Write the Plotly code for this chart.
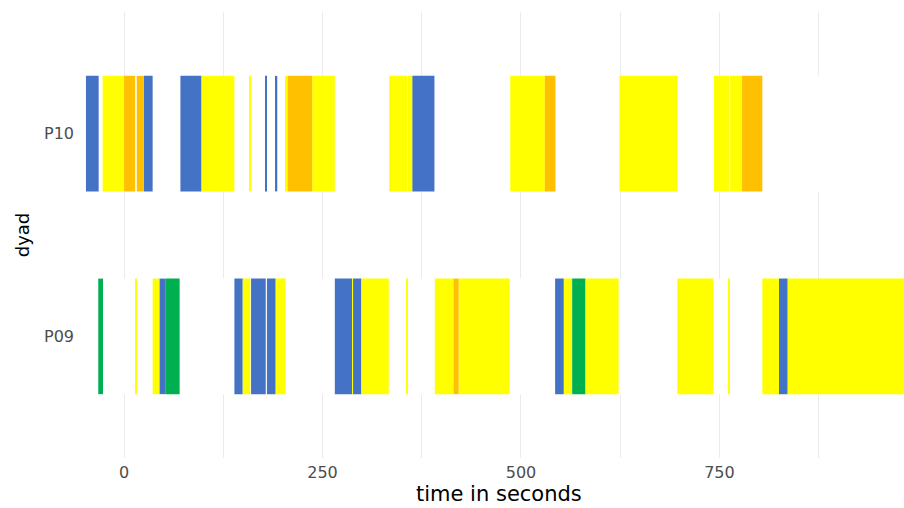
import plotly.graph_objects as go

# Coded behaviour episodes per dyad: start / end time (s) and behaviour code
p10_start = [-48, -27, 0, 16, 25, 71, 97.6, 158.5, 178, 191, 203.5, 206, 237,
             334, 357.5, 363, 486.5, 530, 624, 743, 763.5, 778.5]
p10_end = [-32, 0, 14, 25, 36, 97.6, 139, 160, 180, 193, 206, 237, 265.5,
           356.5, 363, 391, 530, 543.5, 697, 762, 778.5, 804]
p10_code = ["A", "B", "C", "C", "A", "A", "B", "B", "A", "A", "B", "C", "B",
            "B", "B", "A", "B", "C", "B", "B", "B", "C"]

p09_start = [-32.5, 14, 36, 44.5, 52.5, 139, 149.5, 160, 180, 191, 265.5, 287.6,
             288.5, 299, 356.3, 391.5, 415, 421.5, 543, 554, 564.5, 581, 697,
             761.8, 804, 825, 836]
p09_end = [-26.5, 16, 44.5, 52.5, 70, 149.5, 159, 178.5, 191, 203.5, 287.5, 288.4,
           299, 333.5, 356.7, 415, 421.5, 485.7, 554, 564.5, 581, 623, 742.5,
           762.2, 825, 836, 990]
p09_code = ["D", "B", "B", "A", "D", "A", "B", "A", "A", "B", "A", "B",
            "A", "B", "B", "B", "C", "B", "A", "B", "D", "B", "B",
            "B", "B", "A", "B"]

dyads = ["P09", "P10"]
x_ticks = [0, 250, 500, 750]
x_minor = [125, 375, 625, 875]

code_colors = {"A": "#4472C4", "B": "#FFFF00", "C": "#FFC000", "D": "#00B050"}

rows = {
    "P10": (p10_start, p10_end, p10_code),
    "P09": (p09_start, p09_end, p09_code),
}

x_range = [-55.5, 982.5]
bar_width = 0.57

fig = go.Figure()

# white band behind each dyad row, covering the grid
fig.add_trace(go.Bar(
    orientation="h",
    base=[x_range[0]] * len(dyads),
    x=[x_range[1] - x_range[0] + 20] * len(dyads),
    y=list(range(len(dyads))),
    width=bar_width,
    marker=dict(color="white", line=dict(width=0)),
    showlegend=False,
    hoverinfo="skip",
))

# one trace per behaviour code, drawn in order so overlapping episodes stack
for code in ["A", "B", "C", "D"]:
    bases, lengths, ys = [], [], []
    for name, (st, en, cd) in rows.items():
        yi = dyads.index(name)
        for s, e, c in zip(st, en, cd):
            if c == code:
                bases.append(s)
                lengths.append(e - s)
                ys.append(yi)
    fig.add_trace(go.Bar(
        orientation="h",
        base=bases,
        x=lengths,
        y=ys,
        width=bar_width,
        marker=dict(color=code_colors[code], line=dict(width=0)),
        showlegend=False,
        hoverinfo="skip",
    ))

fig.update_layout(
    width=904,
    height=508,
    margin=dict(l=80, r=0, t=12, b=50),
    plot_bgcolor="white",
    paper_bgcolor="white",
    barmode="overlay",
    font=dict(family="DejaVu Sans, Arial, sans-serif"),
    xaxis=dict(
        range=x_range,
        tickvals=x_ticks,
        ticktext=[str(v) for v in x_ticks],
        showgrid=True,
        gridcolor="#EBEBEB",
        gridwidth=1.1,
        minor=dict(tickvals=x_minor, showgrid=True, gridcolor="#EBEBEB", gridwidth=1),
        zeroline=False,
        showline=False,
        ticks="",
        tickfont=dict(size=16, color="#4D4D4D"),
        ticklabelstandoff=3,
    ),
    yaxis=dict(
        range=[-0.6, 1.6],
        tickvals=list(range(len(dyads))),
        ticktext=dyads,
        showgrid=False,
        zeroline=False,
        showline=False,
        ticks="",
        tickfont=dict(size=16, color="#4D4D4D"),
        ticklabelstandoff=5,
        title=dict(text="dyad", font=dict(size=18, color="black"), standoff=9),
    ),
    annotations=[dict(
        text="time in seconds", xref="paper", yref="paper",
        x=(499 - 80) / (904 - 80), y=0, yshift=-49, xanchor="center", yanchor="bottom",
        borderpad=0, showarrow=False, font=dict(size=21, color="black"),
    )],
)

fig.write_html("out.html")
